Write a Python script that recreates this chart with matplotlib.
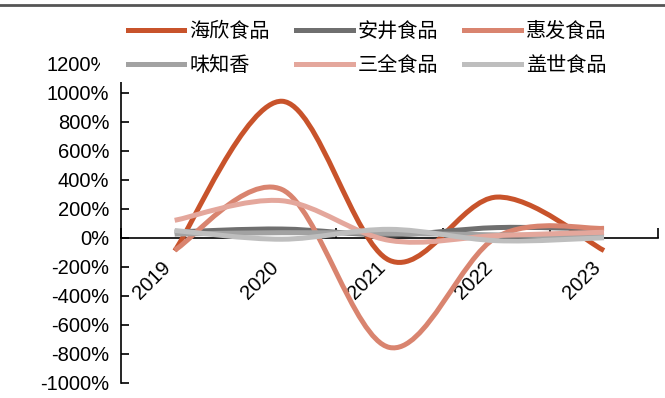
import matplotlib
matplotlib.use("Agg")
import matplotlib.pyplot as plt
import numpy as np
from matplotlib.path import Path
from matplotlib.patches import PathPatch, Rectangle
from matplotlib.lines import Line2D
from matplotlib.ticker import FuncFormatter

plt.rcParams["font.family"] = ["Liberation Sans", "Noto Sans CJK SC", "DejaVu Sans"]

years = ["2019", "2020", "2021", "2022", "2023"]
names = ["海欣食品", "安井食品", "惠发食品", "味知香", "三全食品", "盖世食品"]
colors = ["#C8532B", "#6F6F6F", "#D9846F", "#A2A2A2", "#E4A79C", "#BEBEBE"]

# growth rates, %
haixin = [-90, 940, -155, 280, -88]
anjing = [40, 60, 20, 70, 60]
huifa = [-85, 332, -755, 5, 65]
weizhixiang = [25, 35, 30, 20, 8]
sanquan = [120, 255, -18, 15, 38]
gaishi = [50, -10, 58, -20, 0]
series = [haixin, anjing, huifa, weizhixiang, sanquan, gaishi]


def smooth_path(xs, ys):
    # excel-ish smoothed line: catmull-rom segments as cubic beziers
    p = np.column_stack([xs, ys]).astype(float)
    ext = np.vstack([p[0], p, p[-1]])
    verts = [p[0]]
    codes = [Path.MOVETO]
    for i in range(len(p) - 1):
        p0, p1, p2, p3 = ext[i], ext[i + 1], ext[i + 2], ext[i + 3]
        verts += [p1 + (p2 - p0) / 6.0, p2 - (p3 - p1) / 6.0, p2]
        codes += [Path.CURVE4] * 3
    return Path(verts, codes)


fig = plt.figure(figsize=(6.65, 3.98), dpi=100)
ax = fig.add_axes([0.182, 0.0377, 0.807, 0.8028])

# spines first: set_position resets the ticks
for s in ["top", "right"]:
    ax.spines[s].set_visible(False)
ax.spines["bottom"].set_position(("data", 0))
for s in ["left", "bottom"]:
    ax.spines[s].set_linewidth(1.2)

x = np.arange(len(years))
for vals, c in zip(series, colors):
    patch = PathPatch(smooth_path(x, vals), facecolor="none", edgecolor=c,
                      lw=3.6, capstyle="butt", joinstyle="round", zorder=3)
    ax.add_patch(patch)

ax.set_xlim(-0.5, len(years) - 0.5)
ax.set_ylim(-1000, 1200)
ax.set_yticks(np.arange(-1000, 1201, 200))
ax.yaxis.set_major_formatter(FuncFormatter(lambda v, _: f"{v:.0f}%"))

ax.set_xticks(x)
ax.set_xticklabels(years)
ax.set_xticks(np.arange(-0.5, len(years)), minor=True)
ax.tick_params(axis="x", which="major", length=0, pad=14.5, labelsize=14.5)
ax.tick_params(axis="x", which="minor", direction="in", length=7, width=1.2)
ax.tick_params(axis="y", direction="in", length=6, width=1.2, pad=8.5,
               labelsize=14.5)
plt.setp(ax.get_xticklabels(), rotation=45, ha="right", va="top")

# white block behind the legend (hides the top of the y axis, as in the source)
fig.add_artist(Rectangle((0.150, 0.794), 0.80, 0.19, transform=fig.transFigure,
                         facecolor="white", edgecolor="none", zorder=1))

# legend fills column by column -> reorder so rows read like the original
order = [0, 3, 1, 4, 2, 5]
handles = [Line2D([], [], color=colors[i], lw=3.6) for i in order]
labels = [names[i] for i in order]
fig.legend(handles, labels, loc="upper left", bbox_to_anchor=(0.1925, 0.947),
           ncol=3, frameon=False, handlelength=2.8,
           handletextpad=0.25, columnspacing=1.3, labelspacing=0.66,
           borderpad=0, borderaxespad=0,
           prop={"family": ["Noto Sans CJK SC", "DejaVu Sans"], "size": 14.5})

fig.add_artist(Line2D([0, 1], [0.988, 0.988], transform=fig.transFigure,
                      color="#555555", lw=2, zorder=10))

fig.savefig("out.png", dpi=100)
